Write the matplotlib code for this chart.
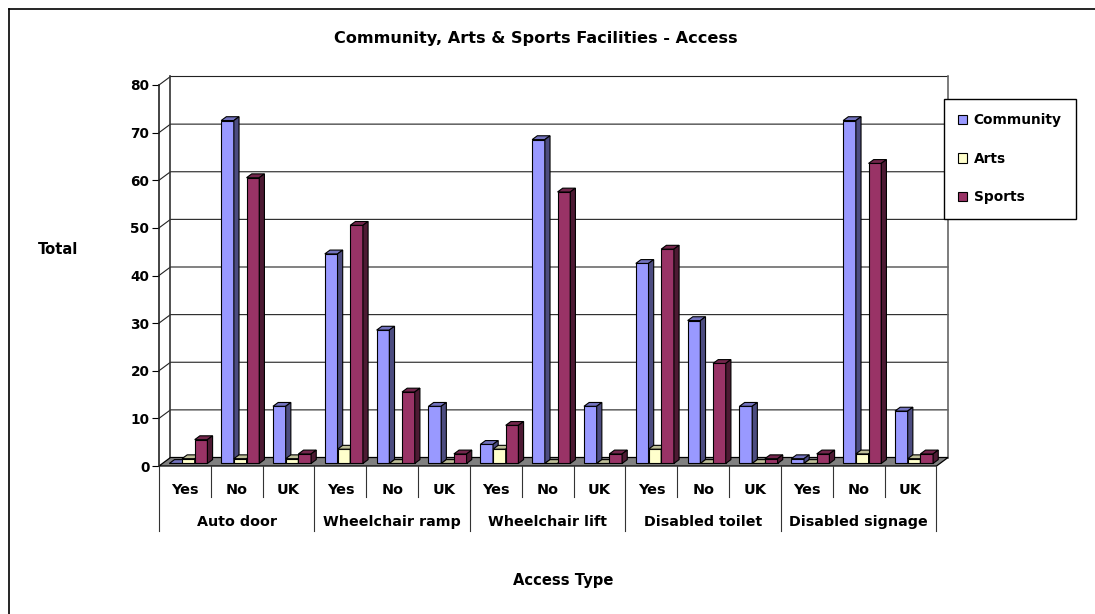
import matplotlib
matplotlib.use("Agg")
import matplotlib.pyplot as plt
from matplotlib.lines import Line2D
from matplotlib.patches import Patch

plt.rcParams['font.family'] = ['DejaVu Sans']
plt.rcParams['font.weight'] = 'bold'

groups = ['Auto door', 'Wheelchair ramp', 'Wheelchair lift', 'Disabled toilet', 'Disabled signage']
answers = ['Yes', 'No', 'UK'] * 5
community = [0, 72, 12, 44, 28, 12, 4, 68, 12, 42, 30, 12, 1, 72, 11]
arts = [1, 1, 1, 3, 0, 0, 3, 0, 0, 3, 0, 0, 0, 2, 1]
sports = [5, 60, 2, 50, 15, 2, 8, 57, 2, 45, 21, 1, 2, 63, 2]
yticks = [0, 10, 20, 30, 40, 50, 60, 70, 80]

W, H = 1095, 614
fig = plt.figure(figsize=(W / 100, H / 100), dpi=100)

# front plane of the fake 3d box, everything else is offset from it
L, R, B, T = 159, 936.5, 466, 85
ax = fig.add_axes([L / W, 1 - B / H, (R - L) / W, (B - T) / H])
ax.set_xlim(0, 15)
ax.set_ylim(0, 80)
ax.patch.set_alpha(0)

xpx = 15 / (R - L)
ypx = 80 / (B - T)
DX = 11.5 * xpx   # box depth in data units
DY = 8.5 * ypx

# floor and walls
ax.fill([0, 15, 15 + DX, DX], [0, 0, DY, DY], facecolor='#808080', edgecolor='black', lw=0.9, zorder=2, clip_on=False)
for v in yticks[1:]:
    ax.plot([0, DX, 15 + DX], [v, v + DY, v + DY], color='#222222', lw=0.8, zorder=1, clip_on=False)
ax.plot([DX, DX], [DY, 80 + DY], color='#333333', lw=1.2, zorder=1, clip_on=False)
ax.plot([15 + DX, 15 + DX], [DY, 80 + DY], color='#666666', lw=1.2, zorder=1, clip_on=False)

# bars
bw = 12.7 * xpx
series = [
    (community, '#9999FF', '#7373BF', '#4C4C80'),
    (arts, '#FFFFCC', '#BFBF99', '#808066'),
    (sports, '#993366', '#73264C', '#4D1A33'),
]
d0, d1 = 0.3, 0.75
z = 3
for i in range(15):
    for j, (vals, front, top, side) in enumerate(series):
        v = vals[i]
        x0 = i + 0.5 + (j - 1.5) * bw + d0 * DX
        x1 = x0 + bw
        y0 = d0 * DY
        ex = (d1 - d0) * DX
        ey = (d1 - d0) * DY
        ax.bar(x0, v, bw, bottom=y0, align='edge', color=front, edgecolor='black', lw=0.8, zorder=z, clip_on=False)
        ax.fill([x0, x1, x1 + ex, x0 + ex], [y0 + v, y0 + v, y0 + v + ey, y0 + v + ey],
                facecolor=top, edgecolor='black', lw=0.8, zorder=z, clip_on=False)
        ax.fill([x1, x1 + ex, x1 + ex, x1], [y0, y0 + ey, y0 + v + ey, y0 + v],
                facecolor=side, edgecolor='black', lw=0.8, zorder=z, clip_on=False)
        z += 1

# axes and category table
for s in ['top', 'right', 'bottom']:
    ax.spines[s].set_visible(False)
ax.spines['left'].set_color('#222222')
ax.spines['left'].set_linewidth(1.2)
ax.set_yticks(yticks)
ax.tick_params(axis='y', length=5, width=0.8, labelsize=9.8, pad=2)
ax.set_xticks([i + 0.5 for i in range(15)])
ax.set_xticklabels(answers)
ax.tick_params(axis='x', length=0, labelsize=10.4, pad=12)

for i in range(16):
    drop = 65 if i % 3 == 0 else 31
    ax.plot([i, i], [0, -drop * ypx], color='#333333', lw=0.8, clip_on=False, zorder=2)
for k, g in enumerate(groups):
    ax.text(3 * k + 1.5, -60 * ypx, g, ha='center', va='baseline', fontsize=10.3, clip_on=False)

ax.set_title('Community, Arts & Sports Facilities - Access', fontsize=11.6, fontweight='bold',
             x=(536 - L) / (R - L), y=(B - 39) / (B - T), va='center', pad=0)
ax.set_xlabel('Access Type', fontsize=10.6, fontweight='bold')
ax.xaxis.set_label_coords((563 - L) / (R - L), (B - 580) / (B - T))
ax.xaxis.label.set_va('center')
ax.set_ylabel('Total', fontsize=10.6, fontweight='bold', rotation=0, ha='center', va='center')
ax.yaxis.set_label_coords((58 - L) / (R - L), (B - 249) / (B - T))

# legend
handles = [Patch(facecolor=c[1], edgecolor='black', lw=0.8) for c in series]
leg = ax.legend(handles, ['Community', 'Arts', 'Sports'], loc='upper left',
                bbox_to_anchor=(944 / W, 1 - 99 / H), bbox_transform=fig.transFigure,
                fontsize=9.9, frameon=True, fancybox=False, framealpha=1, edgecolor='black',
                handlelength=0.65, handleheight=0.65, handletextpad=0.47,
                labelspacing=1.78, borderpad=1.05, borderaxespad=0)
leg.set_zorder(100)

# chart area border, cut off on the right and bottom of the image
fig.add_artist(Line2D([8.5 / W, 8.5 / W], [0, 1 - 8.5 / H], color='black', lw=1.2))
fig.add_artist(Line2D([8.5 / W, 1], [1 - 8.5 / H, 1 - 8.5 / H], color='black', lw=1.2))

fig.savefig('out.png', dpi=100)
